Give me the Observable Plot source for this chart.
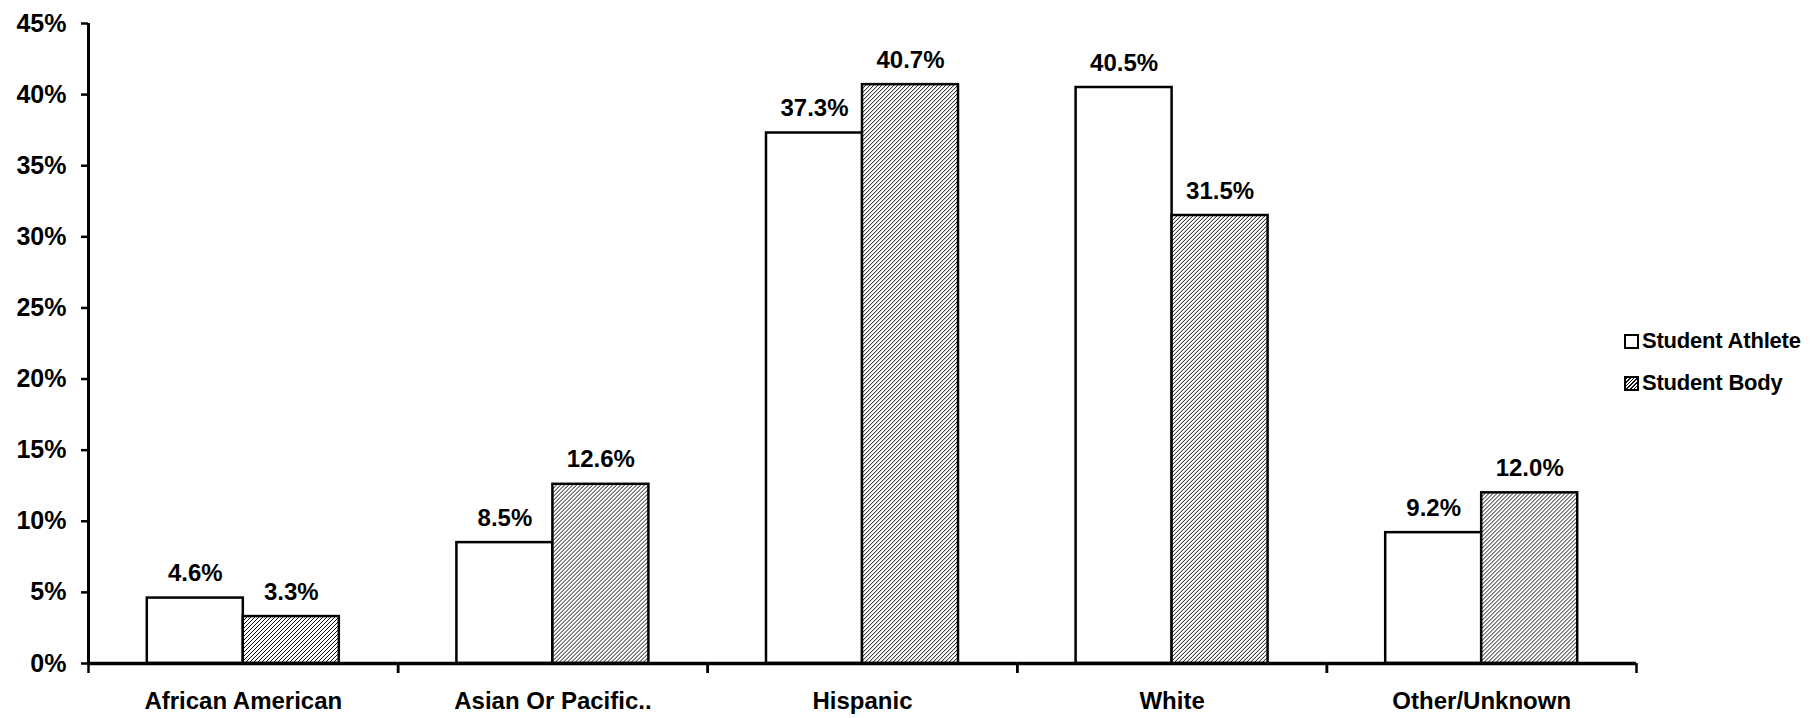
<!DOCTYPE html>
<html>
<head>
<meta charset="utf-8">
<script src="https://cdn.jsdelivr.net/npm/d3@7"></script>
<script src="https://cdn.jsdelivr.net/npm/@observablehq/plot@0.6"></script>
<style>
  html, body { margin: 0; padding: 0; background: #fff; }
  #wrap { position: relative; width: 1816px; height: 718px; }
  #legend { position: absolute; left: 1624px; top: 320px; font-family: "Liberation Sans", Arial, sans-serif; font-weight: bold; font-size: 22px; color: #000; }
  #legend .row { display: flex; align-items: center; height: 42px; letter-spacing: -0.2px; }
  #legend .sw { width: 11px; height: 11px; border: 2px solid #000; margin-right: 3px; box-sizing: content-box; }
</style>
</head>
<body>
<div id="wrap"></div>
<script>
const categories = ["African American", "Asian Or Pacific..", "Hispanic", "White", "Other/Unknown"];
const series = ["Student Athlete", "Student Body"];
const athleteValues = [4.6, 8.5, 37.3, 40.5, 9.2];
const bodyValues = [3.3, 12.6, 40.7, 31.5, 12.0];
const yTicks = [0, 5, 10, 15, 20, 25, 30, 35, 40, 45];

const data = categories.flatMap((c, i) => [
  {cat: c, series: series[0], value: athleteValues[i]},
  {cat: c, series: series[1], value: bodyValues[i]}
]);

const W = 1816, H = 718;
const mL = 88, mR = 180, mT = 23, mB = 55;
const step = (W - mL - mR) / categories.length;
const po = 0.6125;
const bw = step / (2 + 2 * po);
const edge = bw / 2 + po * bw;

const font = "'Liberation Sans', Arial, sans-serif";

const chart = Plot.plot({
  width: W, height: H,
  marginLeft: mL, marginRight: mR, marginTop: mT, marginBottom: mB,
  style: {fontFamily: font, fontWeight: "bold", fontSize: "24px", color: "#000", background: "#fff"},
  fx: {domain: categories, padding: 0, label: null, round: false},
  x: {domain: series, paddingInner: 0, paddingOuter: po, round: false, axis: null},
  y: {domain: [0, 45], label: null},
  marks: [
    Plot.barY(data.filter(d => d.series === series[0]), {fx: "cat", x: "series", y: "value", fill: "white", stroke: "black", strokeWidth: 2.5}),
    Plot.barY(data.filter(d => d.series === series[1]), {fx: "cat", x: "series", y: "value", fill: "url(#hatch)", stroke: "black", strokeWidth: 2.5}),
    Plot.text(data, {fx: "cat", x: "series", y: "value", text: d => d.value.toFixed(1) + "%", dy: -17, lineAnchor: "bottom", fill: "black", fontSize: 24, fontWeight: "bold"}),
    Plot.ruleY([0], {stroke: "black", strokeWidth: 3.5}),
    Plot.ruleX([categories[0]], {fx: d => d, x: () => series[0], dx: -edge, y1: 0, y2: 45, stroke: "black", strokeWidth: 3}),
    Plot.ruleX(categories, {fx: d => d, x: () => series[0], dx: -edge, y1: 0, y2: 0, insetBottom: -10, stroke: "black", strokeWidth: 2.5}),
    Plot.ruleX(categories, {fx: d => d, x: () => series[1], dx: edge, y1: 0, y2: 0, insetBottom: -10, stroke: "black", strokeWidth: 2.5}),
    Plot.axisY({ticks: yTicks, tickFormat: d => d + "%", tickSize: 7, tickPadding: 15, strokeWidth: 2.5, label: null, fontSize: 25, facetAnchor: "left"}),
    Plot.axisFx({anchor: "bottom", tickSize: 0, tickPadding: 28, label: null, fontSize: 24})
  ]
});

const ns = "http://www.w3.org/2000/svg";
const defs = document.createElementNS(ns, "defs");
defs.innerHTML = `<pattern id="hatch" patternUnits="userSpaceOnUse" width="4" height="4">
  <rect width="4" height="4" fill="white"/>
  <path d="M-1,1 l2,-2 M0,4 l4,-4 M3,5 l2,-2" stroke="#111" stroke-width="1"/>
</pattern>`;
chart.insertBefore(defs, chart.firstChild);

const wrap = document.getElementById("wrap");
wrap.appendChild(chart);

const legend = document.createElement("div");
legend.id = "legend";
legend.innerHTML = series.map((s, i) => `<div class="row"><div class="sw" style="background:${i === 0 ? "#fff" : "repeating-linear-gradient(-45deg, #fff 0 1.5px, #111 1.5px 2.6px)"}"></div><span>${s}</span></div>`).join("");
wrap.appendChild(legend);
</script>
</body>
</html>
